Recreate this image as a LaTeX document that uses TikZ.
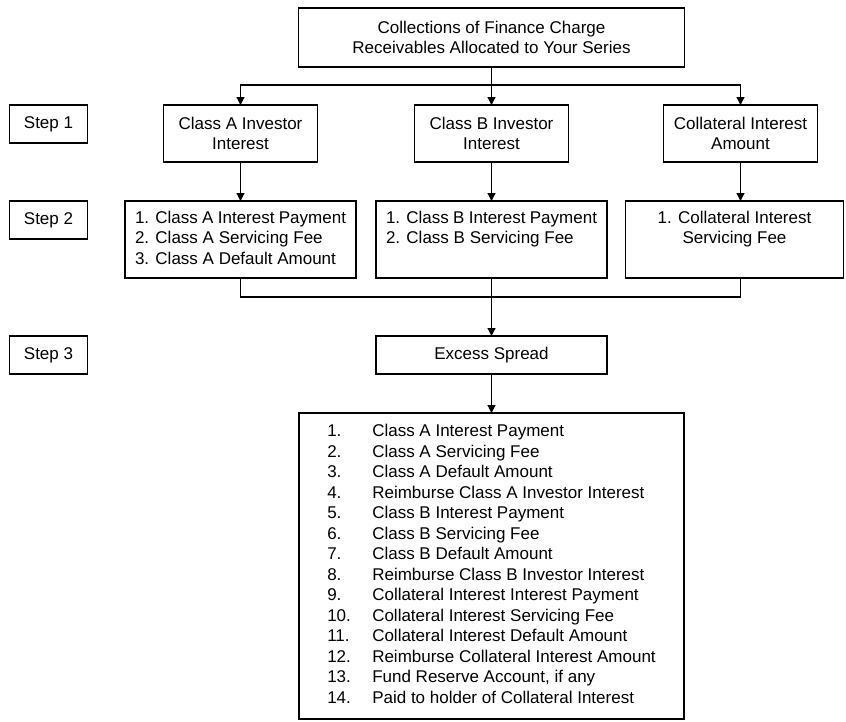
\documentclass[tikz,border=0pt]{standalone}
\usepackage{fontspec}
\setmainfont{Liberation Sans}
\usetikzlibrary{positioning}
\usetikzlibrary{arrows.meta}
\tikzset{%
	% Specifications for style of nodes:
	base/.style = {rectangle, draw=black, line width=1.2pt, inner sep=0pt, outer sep=0pt,
		align=center, font=\fontsize{17}{20.5}\selectfont},
	stepbox/.style = {base, minimum width=78pt, minimum height=38pt},
	source/.style = {base, minimum width=386pt, minimum height=59pt},
	investor/.style = {base, minimum width=154pt, minimum height=57pt},
	payments/.style = {base, inner xsep=10pt, inner ysep=5pt},
	excess/.style = {base, minimum width=231pt, minimum height=38pt},
	waterfall/.style = {base, minimum width=385pt, inner ysep=9.5pt},
	% connectors
	arrow/.style = {line width=1.2pt, -{Triangle[length=8pt, width=8pt]}},
	joint/.style = {line width=1.2pt}
}
% text box that keeps its lines at the top
\newcommand{\toplines}[3]{\parbox[t][#1][t]{#2}{\vspace*{5pt}#3}}

\begin{document}
\begin{tikzpicture}[x=1pt, y=-1pt]
		\useasboundingbox (0,0) rectangle (846,721);
		\node (source) [source] at (491.5,37.5) {Collections of Finance Charge\\Receivables Allocated to Your Series};
		\node (classB) [investor, below=38pt of source] {Class B Investor\\Interest};
		\node (classA) [investor, left=97pt of classB] {Class A Investor\\Interest};
		\node (collat) [investor, right=95pt of classB] {Collateral Interest\\Amount};
		\node (step1) [stepbox, left=76pt of classA.north west, anchor=north east] {Step 1};
		\node (step2) [stepbox, below=58pt of step1] {Step 2};
		\node (step3) [stepbox, below=97pt of step2] {Step 3};
		\node (payA) [payments, below=39pt of classA] {\toplines{67pt}{211pt}{\raggedright
			1. Class A Interest Payment\\2. Class A Servicing Fee\\3. Class A Default Amount}};
		\node (payB) [payments, below=39pt of classB] {\toplines{67pt}{211pt}{\raggedright
			1. Class B Interest Payment\\2. Class B Servicing Fee}};
		\node (payC) [payments, below=39pt of collat, xshift=-6pt] {\toplines{67pt}{198pt}{\centering
			1. Collateral Interest\\Servicing Fee}};
		\node (excess) [excess, below=58pt of payB] {Excess Spread};
		\node (waterfall) [waterfall, below=39pt of excess] {%
			\begin{tabular}{@{}p{45pt}@{}l@{}}
				1.  & Class A Interest Payment\\
				2.  & Class A Servicing Fee\\
				3.  & Class A Default Amount\\
				4.  & Reimburse Class A Investor Interest\\
				5.  & Class B Interest Payment\\
				6.  & Class B Servicing Fee\\
				7.  & Class B Default Amount\\
				8.  & Reimburse Class B Investor Interest\\
				9.  & Collateral Interest Interest Payment\\
				10. & Collateral Interest Servicing Fee\\
				11. & Collateral Interest Default Amount\\
				12. & Reimburse Collateral Interest Amount\\
				13. & Fund Reserve Account, if any\\
				14. & Paid to holder of Collateral Interest
			\end{tabular}};
		\draw[arrow] (source) -- (classB);
		\draw[arrow] (source.south) -- ++(0,18) -| (classA.north);
		\draw[arrow] (source.south) -- ++(0,18) -| (collat.north);
		\draw[arrow] (classA) -- (payA);
		\draw[arrow] (classB) -- (payB);
		\draw[arrow] (collat.south) -- (collat.south |- payC.north);
		\draw[joint] (payA.south) -- ++(0,19) -| (collat.south |- payC.south);
		\draw[arrow] (payB) -- (excess);
		\draw[arrow] (excess) -- (waterfall);
	\end{tikzpicture}
\end{document}
